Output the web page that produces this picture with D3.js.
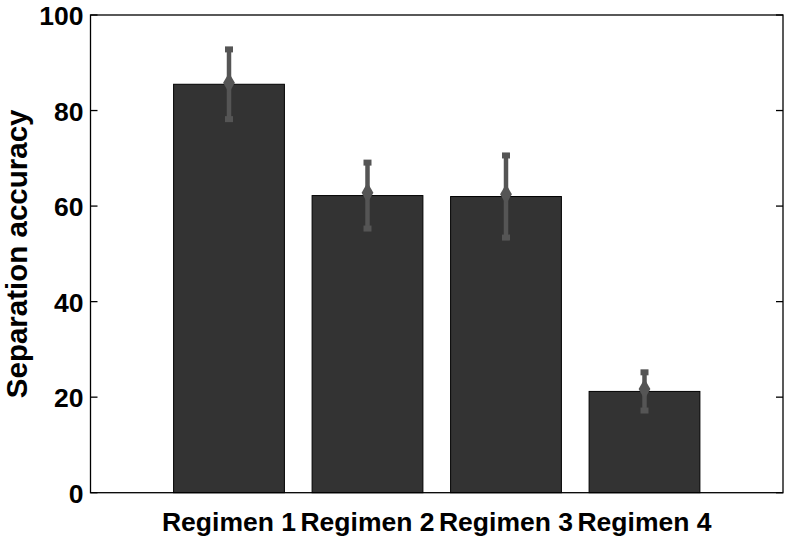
<!DOCTYPE html>
<html>
<head>
<meta charset="utf-8">
<script src="https://cdn.jsdelivr.net/npm/d3@7"></script>
<style>
  body { margin: 0; background: #fff; }
  text { font-family: "Liberation Sans", Arial, sans-serif; font-weight: bold; fill: #000; }
</style>
</head>
<body>
<svg id="chart"></svg>
<script>
var CATEGORIES = ["Regimen 1", "Regimen 2", "Regimen 3", "Regimen 4"];
var MEANS = [85.5, 62.2, 62.0, 21.2];
var ERRORS = [7.3, 6.9, 8.6, 4.0];
var MARKERS = [85.8, 62.8, 62.5, 21.7];
var Y_TICKS = [0, 20, 40, 60, 80, 100];

(function () {
    var WIDTH = 786, HEIGHT = 540;
    var LEFT = 90.5, RIGHT = 783, TOP = 15, BOTTOM = 492.7;
    var TICK = 7;

    var svg = d3.select("#chart").attr("width", WIDTH).attr("height", HEIGHT);

    // bars sit at 1..4 on a 0..5 axis, width 0.8 like matlab's bar()
    var x = d3.scaleLinear().domain([0, 5]).range([LEFT, RIGHT]);
    var y = d3.scaleLinear().domain([0, 100]).range([BOTTOM, TOP]);
    var bw = x(0.8) - x(0);

    var data = CATEGORIES.map(function (c, i) {
        return {name: c, pos: i + 1, mean: MEANS[i], err: ERRORS[i], mark: MARKERS[i]};
    });

    svg.selectAll("rect.bar").data(data).enter().append("rect")
        .attr("class", "bar")
        .attr("x", function (d) { return x(d.pos) - bw / 2; })
        .attr("y", function (d) { return y(d.mean); })
        .attr("width", bw)
        .attr("height", function (d) { return y(0) - y(d.mean); })
        .attr("fill", "#333333")
        .attr("stroke", "#000")
        .attr("stroke-width", 1);

    // error bars
    var eb = svg.selectAll("g.err").data(data).enter().append("g").attr("class", "err");
    eb.append("line")
        .attr("x1", function (d) { return x(d.pos); })
        .attr("x2", function (d) { return x(d.pos); })
        .attr("y1", function (d) { return y(d.mean - d.err); })
        .attr("y2", function (d) { return y(d.mean + d.err); })
        .attr("stroke", "#555555").attr("stroke-width", 4.5);
    eb.selectAll("line.cap")
        .data(function (d) { return [d.mean - d.err, d.mean + d.err].map(function (v) { return {pos: d.pos, v: v}; }); })
        .enter().append("line").attr("class", "cap")
        .attr("x1", function (d) { return x(d.pos) - 4; })
        .attr("x2", function (d) { return x(d.pos) + 4; })
        .attr("y1", function (d) { return y(d.v); })
        .attr("y2", function (d) { return y(d.v); })
        .attr("stroke", "#555555").attr("stroke-width", 6);
    eb.append("path")
        .attr("d", d3.symbol().type(d3.symbolDiamond).size(120))
        .attr("transform", function (d) { return "translate(" + x(d.pos) + "," + y(d.mark) + ")"; })
        .attr("fill", "#555555");

    // box
    svg.append("rect")
        .attr("x", LEFT).attr("y", TOP)
        .attr("width", RIGHT - LEFT).attr("height", BOTTOM - TOP)
        .attr("fill", "none").attr("stroke", "#000").attr("stroke-width", 1.3);

    var yAxis = d3.axisLeft(y).tickValues(Y_TICKS).tickSize(0).tickPadding(7);
    var ga = svg.append("g").attr("transform", "translate(" + LEFT + ",0)").call(yAxis);
    ga.select(".domain").remove();
    ga.selectAll("text").style("font-size", "26.5px").attr("dy", "0.36em");

    // inside ticks, both sides
    svg.selectAll("line.ytl").data(Y_TICKS).enter().append("line")
        .attr("x1", LEFT).attr("x2", LEFT + TICK)
        .attr("y1", function (d) { return y(d); }).attr("y2", function (d) { return y(d); })
        .attr("stroke", "#000").attr("stroke-width", 1.3);
    svg.selectAll("line.ytr").data(Y_TICKS).enter().append("line")
        .attr("x1", RIGHT).attr("x2", RIGHT - TICK)
        .attr("y1", function (d) { return y(d); }).attr("y2", function (d) { return y(d); })
        .attr("stroke", "#000").attr("stroke-width", 1.3);

    svg.selectAll("text.xl").data(data).enter().append("text")
        .attr("class", "xl")
        .attr("x", function (d) { return x(d.pos); })
        .attr("y", 531)
        .attr("text-anchor", "middle")
        .style("font-size", "26.5px")
        .text(function (d) { return d.name; });

    svg.append("text")
        .attr("transform", "translate(27," + ((TOP + BOTTOM) / 2) + ") rotate(-90)")
        .attr("text-anchor", "middle")
        .style("font-size", "29.5px")
        .text("Separation accuracy");
}());
</script>
</body>
</html>
